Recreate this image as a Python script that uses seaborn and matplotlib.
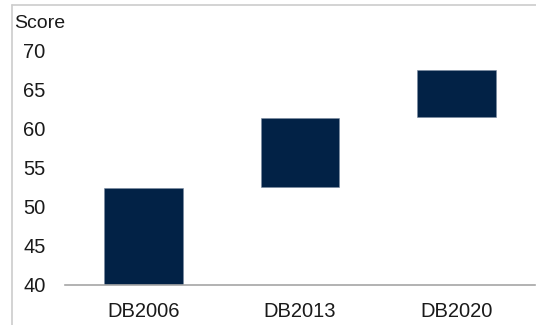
import matplotlib
matplotlib.use("Agg")
import matplotlib.pyplot as plt
import seaborn as sns
import pandas as pd
from matplotlib.lines import Line2D

categories = ["DB2006", "DB2013", "DB2020"]
bar_bottoms = [40.0, 52.5, 61.4]
bar_tops = [52.4, 61.3, 67.4]
y_ticks = [40, 45, 50, 55, 60, 65, 70]

df = pd.DataFrame({
    "cat": categories,
    "height": [t - b for t, b in zip(bar_tops, bar_bottoms)],
    "bottom": bar_bottoms,
})

sns.set_theme(style="white")
plt.rcParams["font.family"] = ["Liberation Sans", "DejaVu Sans"]

W, H = 536, 325
fig = plt.figure(figsize=(W / 100, H / 100), dpi=100)
fig.patch.set_facecolor("white")

# axes placement in pixels
x0, x1 = 65, 535
y_bot, y_top = 285, 50
ax = fig.add_axes([x0 / W, (H - y_bot) / H, (x1 - x0) / W, (y_bot - y_top) / H])

sns.barplot(data=df, x="cat", y="height", bottom=df["bottom"].values,
            color="#022246", saturation=1, width=0.5, ax=ax,
            edgecolor="#7a8aa0", linewidth=0.4)

ax.set_ylim(40, 70)
ax.set_xlim(-0.5, 2.5)
ax.set_yticks(y_ticks)
ax.set_yticklabels([str(v) for v in y_ticks])
ax.set_xlabel("")
ax.set_ylabel("")
ax.tick_params(axis="both", length=0, labelsize=14.5, colors="#1a1a1a")
ax.tick_params(axis="y", pad=14)
ax.tick_params(axis="x", pad=12)
for s in ["top", "right", "left"]:
    ax.spines[s].set_visible(False)
ax.spines["bottom"].set_color("#a6a6a6")
ax.spines["bottom"].set_linewidth(1.2)
ax.patch.set_alpha(0)

# outer frame (left and top lines)
fig.add_artist(Line2D([12 / W, 12 / W], [0, (H - 5) / H], color="#cccccc", lw=1.2, transform=fig.transFigure))
fig.add_artist(Line2D([12 / W, 1], [(H - 5) / H, (H - 5) / H], color="#cccccc", lw=1.2, transform=fig.transFigure))

fig.text(14 / W, (H - 28) / H, "Score", fontsize=14, color="#1a1a1a", ha="left", va="baseline")

fig.savefig("out.png", dpi=100)
